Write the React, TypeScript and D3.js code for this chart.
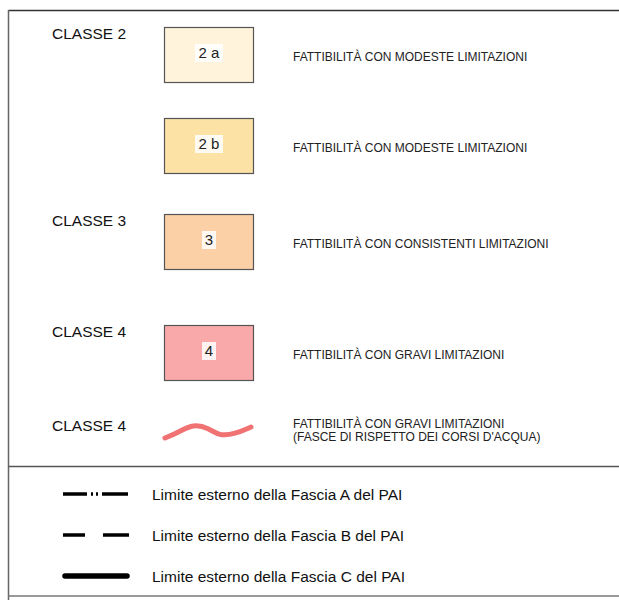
import * as d3 from "d3";

// legend content
const classLabels = ["CLASSE 2", "", "CLASSE 3", "CLASSE 4"];
const codes = ["2 a", "2 b", "3", "4"];
const fills = ["#fff3dc", "#fde2a6", "#fbd0a6", "#f9a9a9"];
const descriptions = [
  "FATTIBILITÀ CON MODESTE LIMITAZIONI",
  "FATTIBILITÀ CON MODESTE LIMITAZIONI",
  "FATTIBILITÀ CON CONSISTENTI LIMITAZIONI",
  "FATTIBILITÀ CON GRAVI LIMITAZIONI",
];
const riverLabel = "CLASSE 4";
const riverLines = [
  "FATTIBILITÀ CON GRAVI LIMITAZIONI",
  "(FASCE DI RISPETTO DEI CORSI D'ACQUA)",
];
// wave shape, in local units (x along, y offset)
const wave: [number, number][] = [
  [0, 11], [14, 5], [28, -3], [44, 1], [54, 9], [70, 7], [86, 0],
];
const limitLabels = [
  "Limite esterno della Fascia A del PAI",
  "Limite esterno della Fascia B del PAI",
  "Limite esterno della Fascia C del PAI",
];
const limitDash = ["24 4 2 3 2 4 26", "22 18 26", ""];

// layout
const W = 619;
const H = 600;
const rowTop = [27, 118, 214, 325];
const boxW = 89;
const boxH = 55;
const limitY = d3.scaleLinear().domain([0, 2]).range([494, 576]);

const font = "'Liberation Sans', Arial, Helvetica, sans-serif";

export default function App() {
  const line = d3.line().curve(d3.curveBasis);
  return (
    <svg
      width={W}
      height={H}
      style={{ position: "absolute", left: 0, top: 0, background: "#fff" }}
      fontFamily={font}
    >
      {/* frame */}
      <line x1={8.5} y1={10.5} x2={W} y2={10.5} stroke="#333" strokeWidth={1.5} />
      <line x1={8.5} y1={10} x2={8.5} y2={H} stroke="#666" strokeWidth={1.5} />
      <line x1={8.5} y1={466.5} x2={W} y2={466.5} stroke="#555" strokeWidth={1.5} />
      <line x1={8.5} y1={596} x2={W} y2={596} stroke="#777" strokeWidth={1.5} />

      {codes.map((c, i) => {
        const y = rowTop[i];
        return (
          <g key={c}>
            {classLabels[i] && (
              <text x={52} y={y + 12} fontSize={15.5} fill="#111">
                {classLabels[i]}
              </text>
            )}
            <rect
              x={164.5}
              y={y + 0.5}
              width={boxW}
              height={boxH}
              fill={fills[i]}
              stroke="#555"
              strokeWidth={1.2}
            />
            <rect
              x={164.5 + boxW / 2 - (c.length > 1 ? 14 : 7)}
              y={y + 17}
              width={c.length > 1 ? 28 : 14}
              height={18}
              fill="#fff"
              opacity={0.85}
            />
            <text
              x={164.5 + boxW / 2}
              y={y + 31}
              fontSize={15}
              textAnchor="middle"
              fill="#222"
            >
              {c}
            </text>
            <text x={293} y={y + 34} fontSize={12} fill="#222">
              {descriptions[i]}
            </text>
          </g>
        );
      })}

      {/* river buffer */}
      <text x={52} y={431} fontSize={15.5} fill="#111">
        {riverLabel}
      </text>
      <path
        d={line(wave.map(([x, y]) => [165 + x, 427 + y])) || ""}
        fill="none"
        stroke="#f07272"
        strokeWidth={5}
        strokeLinecap="round"
      />
      {riverLines.map((t, i) => (
        <text key={i} x={293} y={428 + i * 13} fontSize={12} fill="#222">
          {t}
        </text>
      ))}

      {/* PAI limits */}
      {limitLabels.map((t, i) => (
        <g key={t}>
          <line
            x1={i === 2 ? 65 : 63}
            x2={i === 2 ? 127 : 129}
            y1={limitY(i)}
            y2={limitY(i)}
            stroke="#000"
            strokeWidth={i === 2 ? 5.5 : 3.5}
            strokeDasharray={limitDash[i] || undefined}
            strokeLinecap={i === 2 ? "round" : "butt"}
          />
          <text x={152} y={limitY(i) + 5.5} fontSize={15.5} fill="#111">
            {t}
          </text>
        </g>
      ))}
    </svg>
  );
}
